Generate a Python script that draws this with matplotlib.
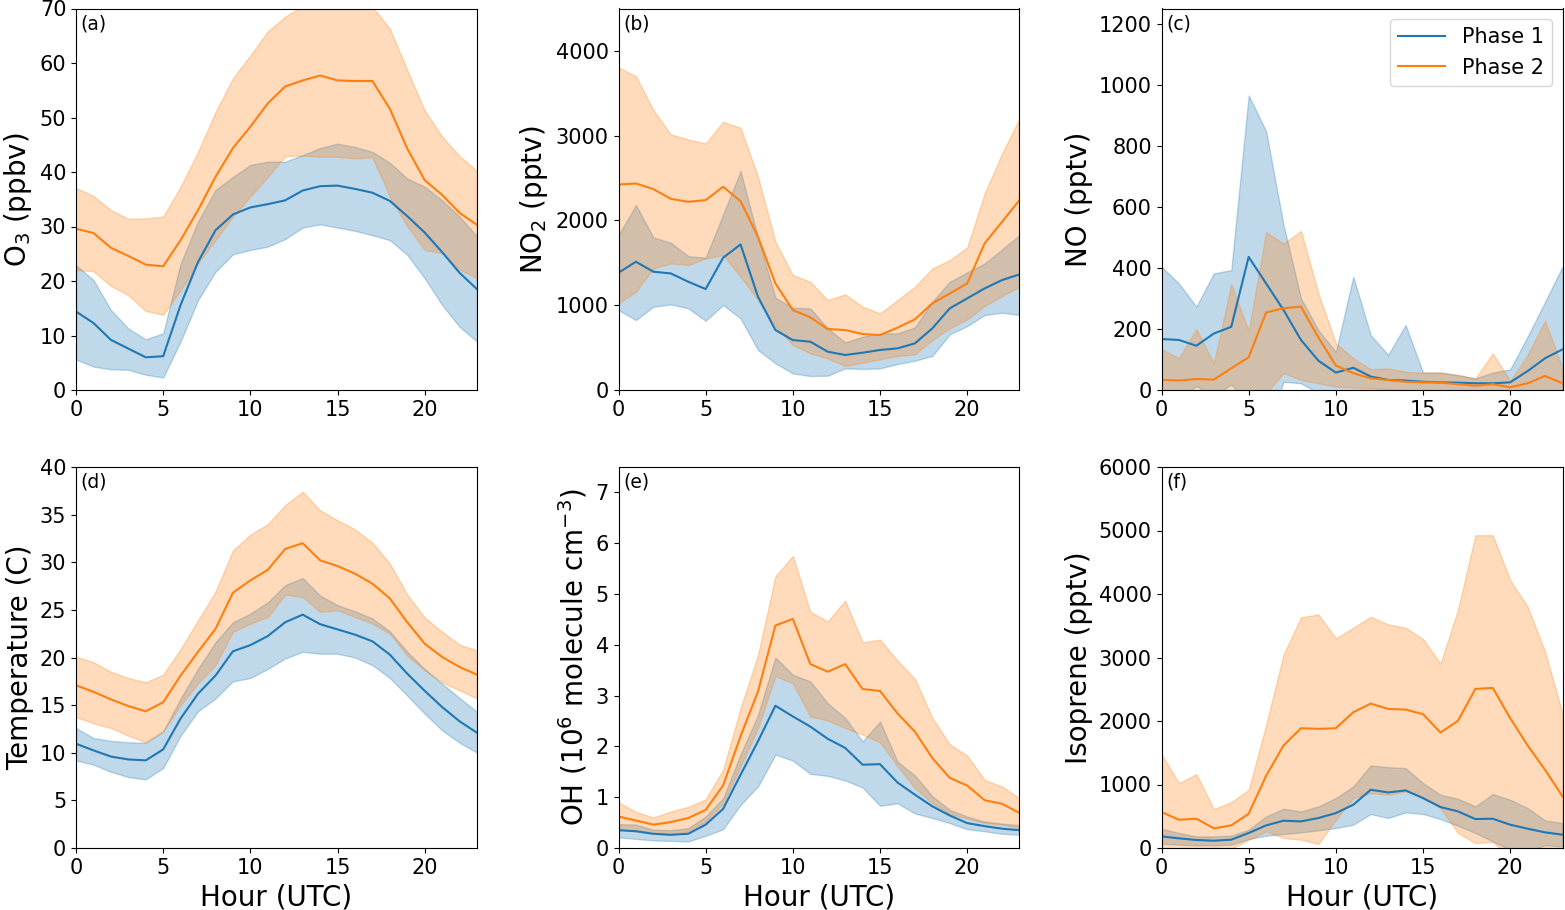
import matplotlib
matplotlib.use("Agg")
import matplotlib.pyplot as plt
import numpy as np

hours = list(range(24))

# (a) O3 (ppbv)
o3_p1_mean = [14.4,12.3,9.2,7.6,6.0,6.2,15.6,23.5,29.3,32.2,33.5,34.1,34.8,36.6,37.4,37.5,36.9,36.2,34.7,31.9,28.9,25.3,21.5,18.5]
o3_p1_hi = [22.9,20.2,14.7,11.3,9.3,10.4,23.2,30.9,36.7,39.1,41.3,41.9,41.9,43.1,44.4,45.2,44.6,43.7,41.7,38.8,37.3,34.8,31.8,28.2]
o3_p1_lo = [5.6,4.3,3.8,3.7,2.8,2.3,8.9,16.5,21.7,24.9,25.7,26.3,27.7,29.8,30.4,29.8,29.2,28.4,27.5,24.8,20.5,15.6,11.6,8.9]
o3_p2_mean = [29.6,28.8,26.1,24.6,23.0,22.7,27.5,33.0,39.1,44.4,48.3,52.6,55.7,56.8,57.7,56.8,56.7,56.7,51.6,44.3,38.5,35.8,32.5,30.3]
o3_p2_hi = [37.1,35.6,33.0,31.4,31.5,31.8,37.3,43.7,51.0,57.2,61.4,65.8,68.5,70.5,71.0,71.2,71.2,70.3,66.3,58.7,51.3,46.5,42.9,40.2]
o3_p2_lo = [22.0,21.8,19.1,17.4,14.5,13.8,18.3,23.2,27.5,31.8,35.5,39.1,42.9,43.0,42.8,42.8,42.5,42.7,35.5,30.0,25.7,25.1,22.1,20.5]

# (b) NO2 (pptv)
no2_p1_mean = [1383,1513,1395,1375,1277,1191,1560,1717,1100,707,589,570,452,413,440,472,491,550,727,963,1081,1198,1297,1363]
no2_p1_hi = [1827,2181,1800,1737,1580,1560,2071,2582,1800,1088,971,963,727,562,629,668,668,739,1041,1277,1387,1493,1658,1827]
no2_p1_lo = [943,825,982,1010,963,817,1002,845,472,314,196,165,169,255,248,255,306,346,401,656,754,884,912,884]
no2_p2_mean = [2424,2436,2369,2255,2220,2240,2397,2228,1807,1257,943,857,719,707,660,648,735,833,1022,1139,1257,1729,1984,2240]
no2_p2_hi = [3804,3701,3301,3014,2955,2908,3163,3092,2515,1748,1356,1277,1061,1128,982,904,1061,1218,1434,1532,1682,2318,2790,3202]
no2_p2_lo = [1022,1159,1434,1493,1473,1552,1591,1336,1061,747,530,432,373,283,322,361,401,420,589,727,833,990,1108,1218]

# (c) NO (pptv)
no_p1_mean = [167,164,145,185,207,436,349,262,164,96,57,73,44,33,31,27,25,24,22,22,25,62,104,133]
no_p1_hi = [404,349,273,382,393,965,848,540,300,196,125,371,180,115,213,57,57,49,38,57,68,175,289,404]
no_p1_lo = [-70,-30,13,-20,18,-40,-150,27,22,-10,-20,-220,-90,-50,-150,-5,-5,-5,-2,-15,-20,-50,-80,-140]
no_p2_mean = [33,31,36,34,71,107,254,268,273,172,80,55,38,33,27,25,24,19,14,19,9,22,46,22]
no_p2_hi = [134,104,200,87,347,194,518,480,521,316,153,104,68,71,60,57,57,49,38,120,30,115,227,71]
no_p2_lo = [-60,-40,-20,-30,-10,-40,-10,55,33,22,11,8,6,2,0,-3,-5,-8,-10,-80,-12,-70,-130,-30]

# (d) Temperature (C)
t_p1_mean = [10.95,10.25,9.6,9.3,9.2,10.35,13.6,16.2,18.1,20.65,21.3,22.25,23.7,24.5,23.5,22.95,22.4,21.7,20.3,18.3,16.5,14.8,13.3,12.1]
t_p1_hi = [12.6,11.55,11.25,11.1,11.05,12.25,15.7,18.8,21.6,23.7,24.6,25.8,27.6,28.35,26.5,25.5,24.85,24.1,22.75,20.6,18.8,17.25,15.75,14.3]
t_p1_lo = [9.2,8.75,8.0,7.45,7.2,8.4,11.8,14.35,15.7,17.5,17.85,18.8,19.9,20.6,20.4,20.4,20.0,19.2,17.85,16.0,14.1,12.35,11.05,10.0]
t_p2_mean = [17.08,16.4,15.6,14.9,14.35,15.3,18.1,20.6,23.0,26.8,28.1,29.2,31.4,32.0,30.2,29.6,28.8,27.75,26.2,23.7,21.45,20.05,19.0,18.2]
t_p2_hi = [20.1,19.5,18.5,17.85,17.4,18.2,20.9,23.9,26.9,31.25,32.9,34.0,36.0,37.4,35.45,34.4,33.45,32.05,29.85,26.6,24.2,22.7,21.35,20.75]
t_p2_lo = [13.75,13.1,12.6,11.8,11.1,12.25,15.0,17.3,19.2,22.7,23.55,24.25,26.6,26.35,24.8,24.95,24.25,23.55,22.5,20.2,18.65,17.4,16.55,15.7]

# (e) OH (1e6 molecule cm-3)
oh_p1_mean = [0.35,0.33,0.28,0.26,0.28,0.46,0.77,1.44,2.10,2.80,2.59,2.39,2.15,1.97,1.64,1.65,1.29,1.05,0.82,0.64,0.49,0.43,0.38,0.35]
oh_p1_hi = [0.47,0.46,0.36,0.35,0.39,0.62,0.98,1.84,2.62,3.75,3.41,3.28,2.85,2.56,2.10,2.49,1.70,1.43,1.02,0.75,0.62,0.52,0.48,0.45]
oh_p1_lo = [0.21,0.18,0.15,0.14,0.13,0.24,0.37,0.85,1.21,1.84,1.72,1.46,1.42,1.33,1.19,0.83,0.88,0.68,0.59,0.49,0.37,0.33,0.28,0.26]
oh_p2_mean = [0.62,0.54,0.46,0.51,0.59,0.75,1.23,2.20,3.08,4.38,4.51,3.62,3.47,3.62,3.13,3.09,2.65,2.29,1.77,1.38,1.23,0.94,0.87,0.69]
oh_p2_hi = [0.90,0.71,0.60,0.72,0.81,0.96,1.54,2.75,3.80,5.35,5.75,4.65,4.46,4.87,4.05,4.10,3.69,3.33,2.56,2.04,1.82,1.34,1.21,0.98]
oh_p2_lo = [0.37,0.33,0.28,0.26,0.33,0.52,0.88,1.61,2.36,3.38,3.24,2.59,2.51,2.36,2.23,2.08,1.61,1.18,0.88,0.67,0.58,0.49,0.46,0.39]

# (f) Isoprene (pptv)
iso_p1_mean = [183,152,126,115,131,236,356,430,419,472,550,681,917,875,907,786,645,577,456,461,367,304,246,210]
iso_p1_hi = [304,236,183,183,194,288,498,618,576,655,786,970,1300,1273,1258,1022,838,776,655,849,760,629,435,393]
iso_p1_lo = [68,52,42,42,52,141,194,220,246,278,314,367,535,472,561,535,456,351,236,105,-26,-52,42,26]
iso_p2_mean = [566,445,461,309,356,540,1137,1614,1886,1876,1886,2138,2274,2190,2180,2107,1818,2002,2505,2521,2044,1614,1231,812]
iso_p2_hi = [1478,1022,1163,613,723,917,1939,3050,3632,3679,3301,3469,3642,3521,3469,3291,2903,3747,4926,4926,4218,3799,3092,2122]
iso_p2_lo = [-350,-130,-250,5,-10,131,262,157,131,63,445,786,865,838,891,786,629,236,79,94,-130,-570,-630,-500]

panel_labels = ["(a)", "(b)", "(c)", "(d)", "(e)", "(f)"]
ylabels = ["O$_3$ (ppbv)", "NO$_2$ (pptv)", "NO (pptv)",
           "Temperature (C)", "OH (10$^6$ molecule cm$^{-3}$)", "Isoprene (pptv)"]
ylims = [(0, 70), (0, 4500), (0, 1250), (0, 40), (0, 7.5), (0, 6000)]
yticks = [np.arange(0, 71, 10), np.arange(0, 4001, 1000), np.arange(0, 1201, 200),
          np.arange(0, 41, 5), np.arange(0, 8, 1), np.arange(0, 6001, 1000)]
series_names = ["Phase 1", "Phase 2"]

panels = [
    ((o3_p1_mean, o3_p1_lo, o3_p1_hi), (o3_p2_mean, o3_p2_lo, o3_p2_hi)),
    ((no2_p1_mean, no2_p1_lo, no2_p1_hi), (no2_p2_mean, no2_p2_lo, no2_p2_hi)),
    ((no_p1_mean, no_p1_lo, no_p1_hi), (no_p2_mean, no_p2_lo, no_p2_hi)),
    ((t_p1_mean, t_p1_lo, t_p1_hi), (t_p2_mean, t_p2_lo, t_p2_hi)),
    ((oh_p1_mean, oh_p1_lo, oh_p1_hi), (oh_p2_mean, oh_p2_lo, oh_p2_hi)),
    ((iso_p1_mean, iso_p1_lo, iso_p1_hi), (iso_p2_mean, iso_p2_lo, iso_p2_hi)),
]

fig = plt.figure(figsize=(15.65, 9.1), dpi=100)
W, H = 1565.0, 910.0
lefts = [76, 618.5, 1161.5]
tops = [8.5, 467]
bottoms = [390, 848]
aw = 401

colors = ["#1f77b4", "#ff7f0e"]
for i, (p1, p2) in enumerate(panels):
    r, c = divmod(i, 3)
    ax = fig.add_axes([lefts[c] / W, (H - bottoms[r]) / H, aw / W, (bottoms[r] - tops[r]) / H])
    for (mean, lo, hi), col, name in zip((p1, p2), colors, series_names):
        ax.plot(hours, mean, color=col, lw=1.5, label=name)
        ax.fill_between(hours, lo, hi, color=col, alpha=0.28)
    ax.set_xlim(0, 23)
    ax.set_ylim(*ylims[i])
    ax.set_yticks(yticks[i])
    ax.set_xticks([0, 5, 10, 15, 20])
    ax.tick_params(labelsize=15)
    ax.set_ylabel(ylabels[i], fontsize=20)
    if r == 1:
        ax.set_xlabel("Hour (UTC)", fontsize=20)
    ax.text(0.012, 0.985, panel_labels[i], transform=ax.transAxes,
            ha="left", va="top", fontsize=13.5)
    if i == 2:
        ax.legend(loc="upper right", fontsize=15, handlelength=2.25)

fig.savefig("out.png", dpi=100)
